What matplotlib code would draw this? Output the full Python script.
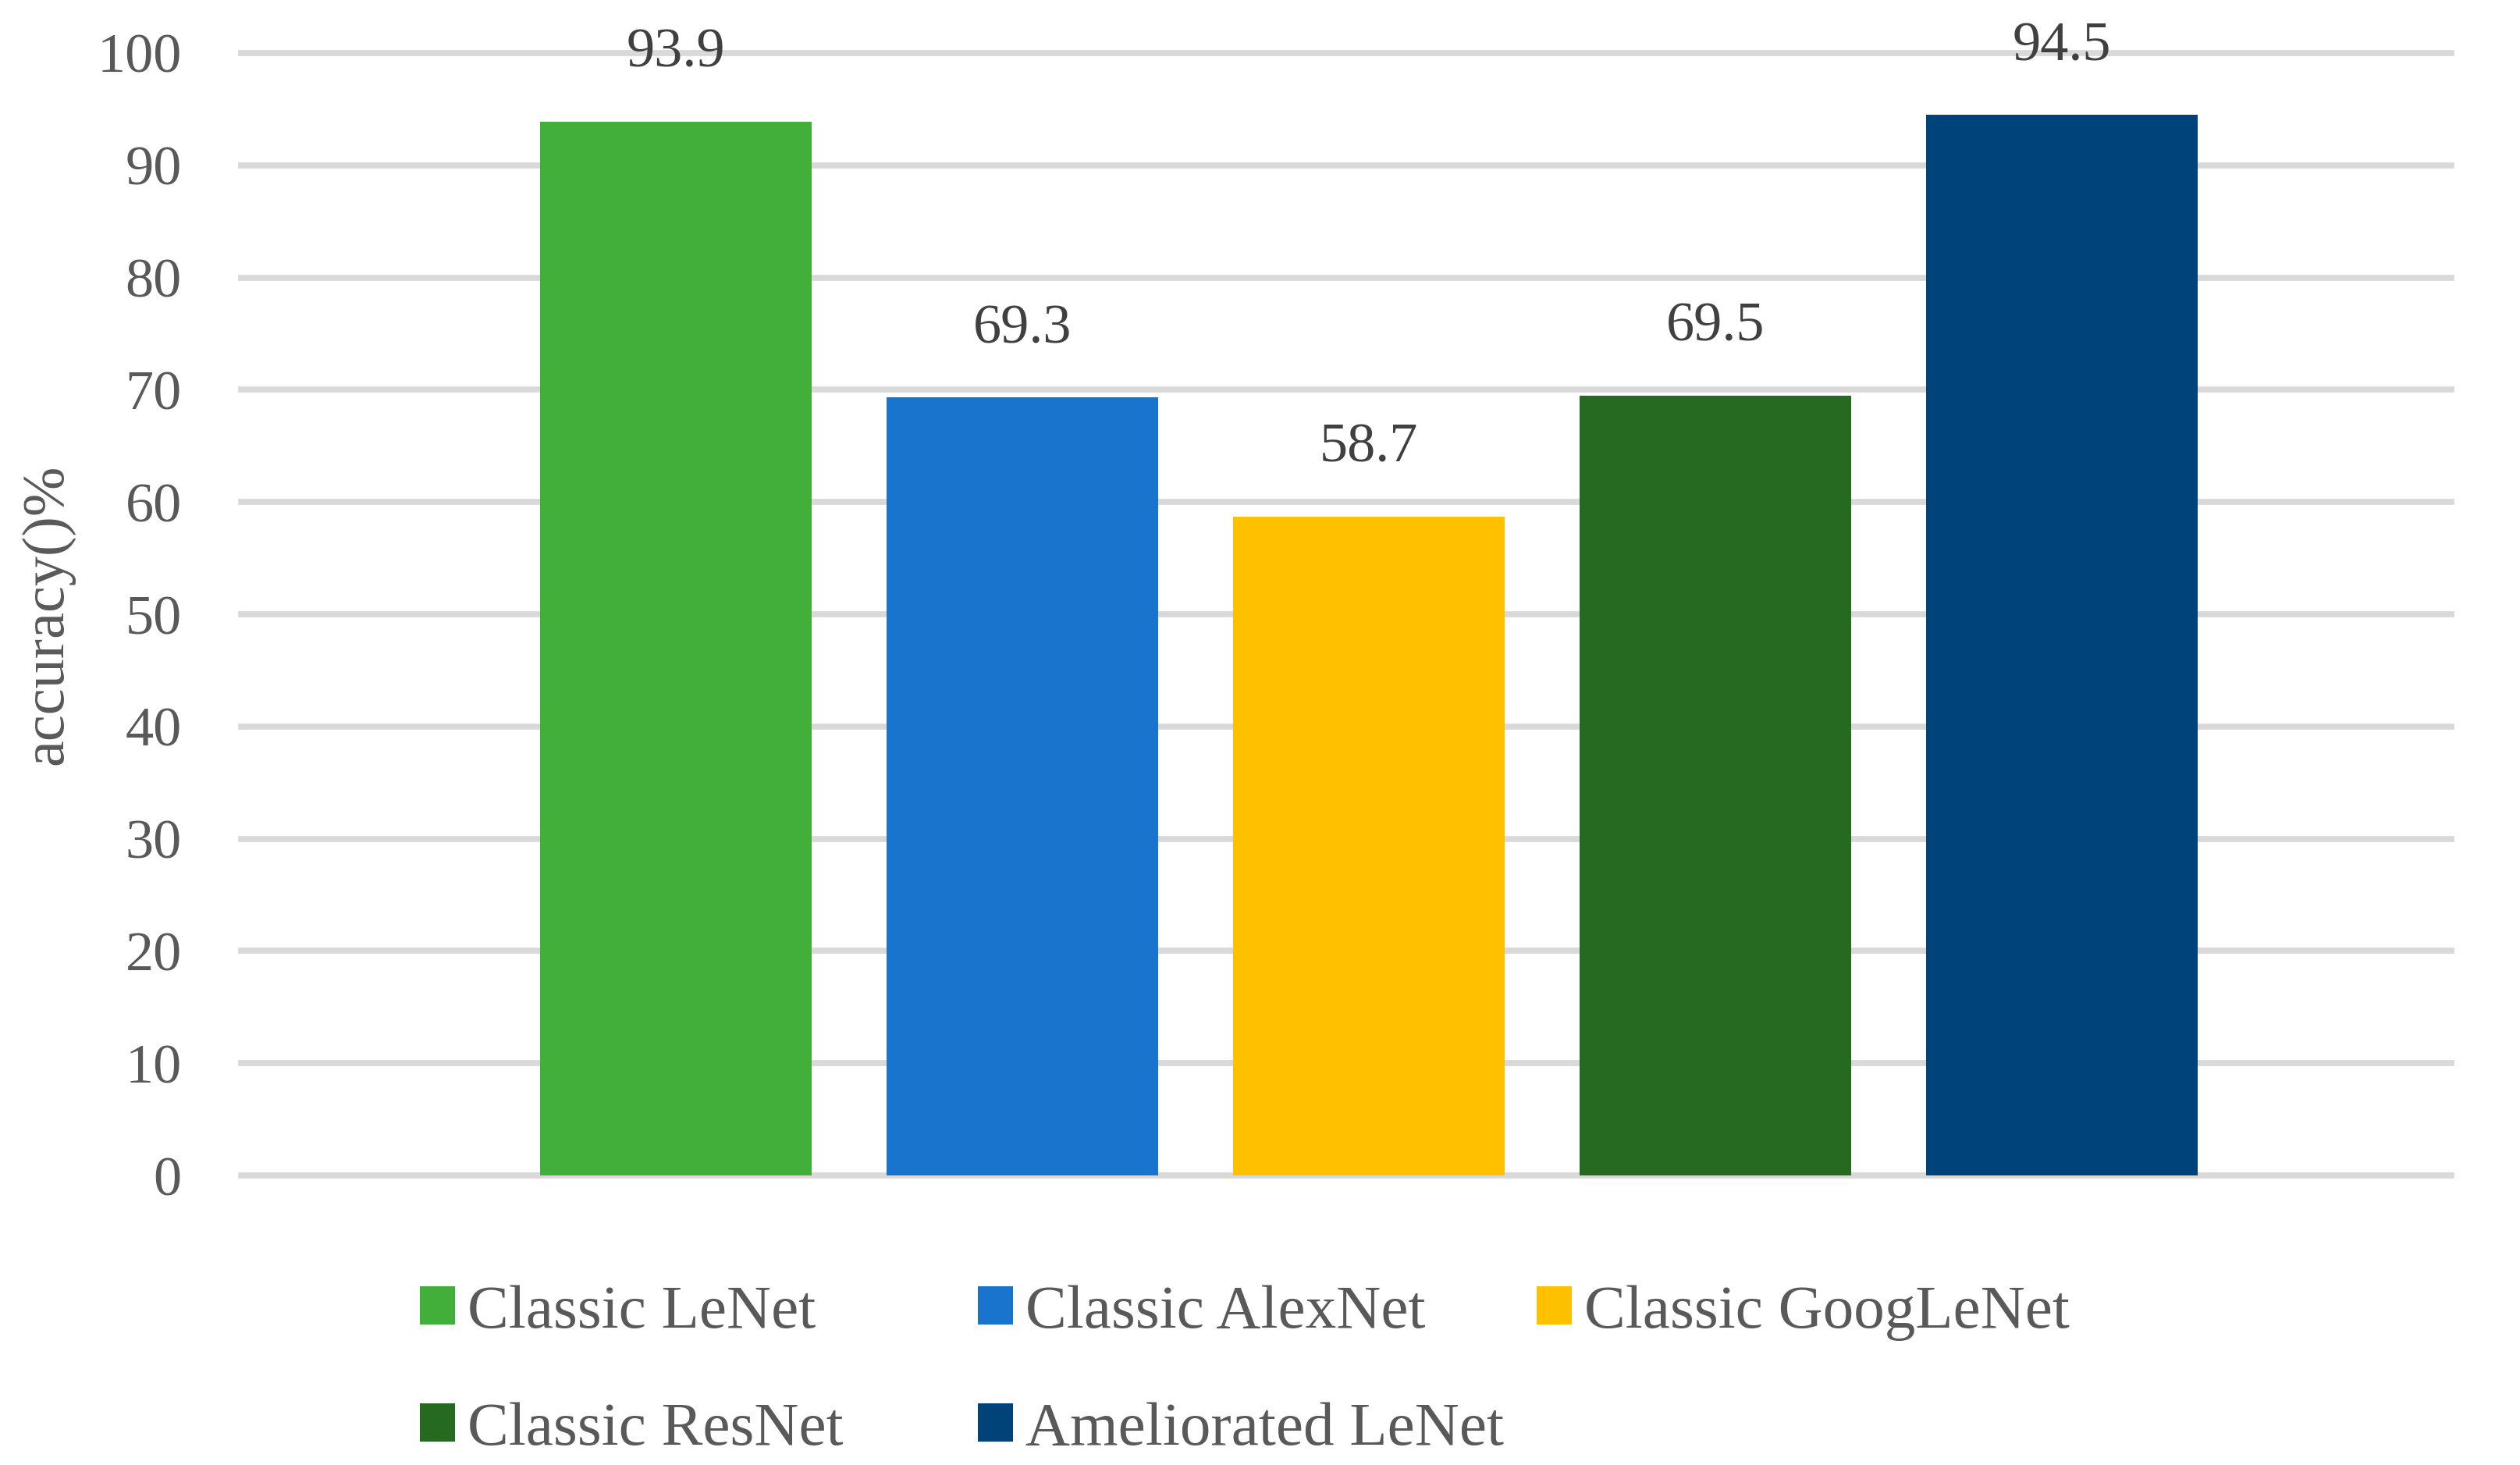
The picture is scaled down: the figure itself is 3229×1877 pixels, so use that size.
import matplotlib
matplotlib.use("Agg")
import matplotlib.pyplot as plt
from matplotlib.patches import Patch

plt.rcParams['font.family'] = ['Liberation Serif', 'DejaVu Serif']

models = ["Classic LeNet", "Classic AlexNet", "Classic GoogLeNet", "Classic ResNet", "Ameliorated LeNet"]
accuracy = [93.9, 69.3, 58.7, 69.5, 94.5]
colors = ["#43AF3B", "#1874CD", "#FFC000", "#266A22", "#00427A"]
yticks = [0, 10, 20, 30, 40, 50, 60, 70, 80, 90, 100]

fig = plt.figure(figsize=(32.30, 18.77), dpi=100)
ax = fig.add_axes([0.0957, 0.1976, 0.9726 - 0.0957, 0.9638 - 0.1976])

x = list(range(len(models)))
bars = ax.bar(x, accuracy, width=0.784, color=colors, zorder=3)

ax.set_xlim(-1.255, 5.125)
ax.set_ylim(0, 100)
ax.set_yticks(yticks)
ax.set_yticklabels([str(t) for t in yticks], fontsize=52, color="#595959")
ax.tick_params(axis='y', length=0, pad=55)
ax.set_xticks([])
for s in ax.spines.values():
    s.set_visible(False)
ax.yaxis.grid(True, color="#D9D9D9", linewidth=5.6, zorder=0)
ax.set_axisbelow(True)
for gl in ax.yaxis.get_gridlines():
    gl.set_clip_on(False)

for xi, v in zip(x, accuracy):
    ax.annotate(f"{v}", (xi, v), xytext=(0, 63), textcoords='offset points',
                ha='center', va='center', fontsize=52, color="#404040")

ax.set_ylabel("accuracy()%", fontsize=55, color="#595959")
ax.yaxis.set_label_coords(-0.0756, 0.5)

# legend entries placed like the original layout
pos = [(0.1665, 0.104), (0.3878, 0.104), (0.6097, 0.104), (0.1665, 0.024), (0.3878, 0.024)]
for (lx, ly), m, c in zip(pos, models, colors):
    leg = fig.legend(handles=[Patch(facecolor=c, label=m)], loc='center left',
                     bbox_to_anchor=(lx, ly), frameon=False, fontsize=57,
                     handlelength=0.57, handleheight=0.57, handletextpad=0.2,
                     borderpad=0, borderaxespad=0)
    for t in leg.get_texts():
        t.set_color("#595959")

fig.savefig("out.png", dpi=100, facecolor="white")
